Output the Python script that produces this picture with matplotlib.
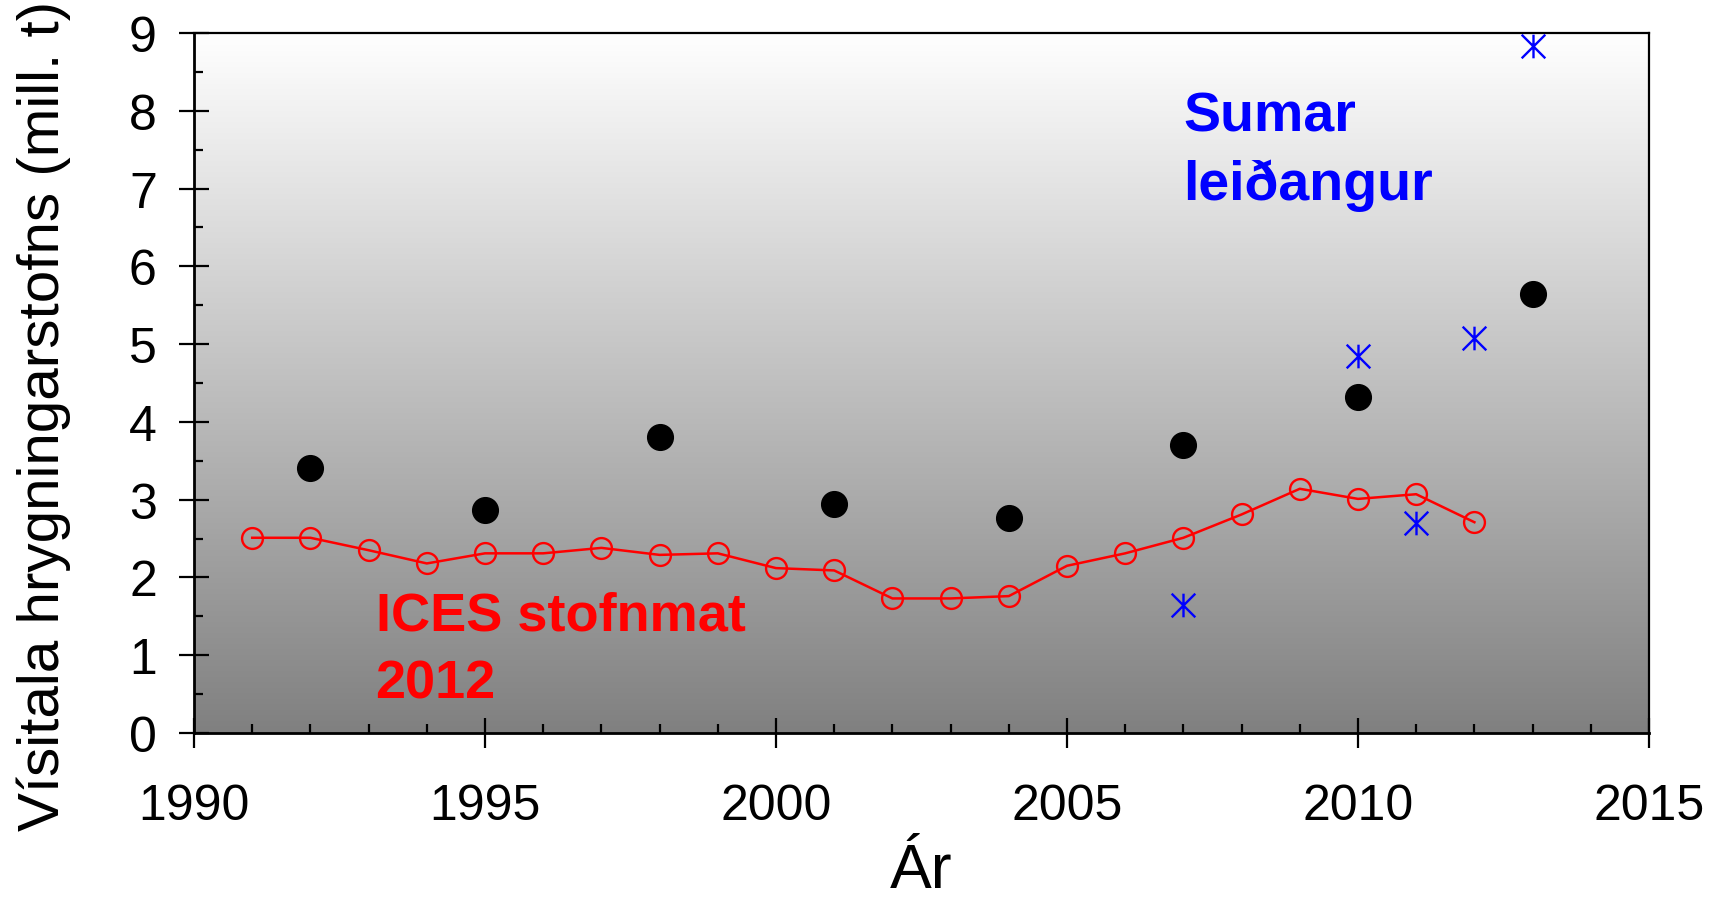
import numpy as np
import matplotlib
matplotlib.use("Agg")
import matplotlib.pyplot as plt
from matplotlib.colors import LinearSegmentedColormap
from matplotlib.path import Path
from matplotlib.ticker import MultipleLocator

plt.rcParams['font.family'] = ['Liberation Sans', 'DejaVu Sans']

# ---- data ----
survey_years = [1992, 1995, 1998, 2001, 2004, 2007, 2010, 2013]
survey_values = [3.41, 2.87, 3.80, 2.94, 2.77, 3.70, 4.32, 5.64]

summer_years = [2007, 2010, 2011, 2012, 2013]
summer_values = [1.65, 4.85, 2.70, 5.08, 8.83]

ices_years = list(range(1991, 2013))
ices_values = [2.51, 2.51, 2.35, 2.18, 2.31, 2.31, 2.38, 2.29, 2.31, 2.12,
               2.09, 1.73, 1.73, 1.76, 2.15, 2.31, 2.51, 2.81, 3.14, 3.01,
               3.07, 2.71]

x_ticks = [1990, 1995, 2000, 2005, 2010, 2015]
y_ticks = list(range(0, 10))
xlabel = "Ár"
ylabel = "Vísitala hrygningarstofns (mill. t)"

# ---- figure ----
fig = plt.figure(figsize=(17.19, 9.03), dpi=100)
ax = fig.add_axes([194/1719, 1 - 734/903, (1649 - 194)/1719, (734 - 34)/903])

ax.set_xlim(1990, 2015)
ax.set_ylim(0, 9)

# gradient background
cmap = LinearSegmentedColormap.from_list("bg", ["#808080", "#ffffff"])
grad = np.linspace(0, 1, 256).reshape(-1, 1)
ax.imshow(grad, extent=(1990, 2015, 0, 9), origin='lower', aspect='auto',
          cmap=cmap, zorder=0, interpolation='bilinear')

# ICES line
ax.plot(ices_years, ices_values, color='#ff0000', lw=1.8, marker='o',
        ms=15, mfc='none', mec='#ff0000', mew=1.7, zorder=3)

# survey dots
ax.plot(survey_years, survey_values, ls='none', marker='o', ms=18.5,
        color='black', zorder=4)

# asterisk marker: vertical line + X
ast = Path([(0, -1), (0, 1), (-1, -1), (1, 1), (-1, 1), (1, -1)],
           [Path.MOVETO, Path.LINETO, Path.MOVETO, Path.LINETO,
            Path.MOVETO, Path.LINETO])
ax.plot(summer_years, summer_values, ls='none', marker=ast, ms=17,
        mfc='none', mec='#0000ff', mew=1.7, zorder=5)

# annotations
ax.text(2007.0, 7.75, "Sumar", color='#0000ff', fontsize=40,
        fontweight='bold', va='baseline', ha='left')
ax.text(2007.0, 6.86, "leiðangur", color='#0000ff', fontsize=40,
        fontweight='bold', va='baseline', ha='left')
ax.text(1993.12, 1.33, "ICES stofnmat", color='#ff0000', fontsize=39,
        fontweight='bold', va='baseline', ha='left')
ax.text(1993.12, 0.46, "2012", color='#ff0000', fontsize=39,
        fontweight='bold', va='baseline', ha='left')

# axes styling
ax.set_xticks(x_ticks)
ax.set_yticks(y_ticks)
ax.xaxis.set_minor_locator(MultipleLocator(1))
ax.yaxis.set_minor_locator(MultipleLocator(0.5))
ax.tick_params(which='major', direction='inout', length=21.6, width=1.6,
               labelsize=36, color='black')
ax.tick_params(which='minor', direction='in', length=6.5, width=1.6)
ax.tick_params(axis='x', which='major', pad=25)
ax.tick_params(axis='y', which='major', pad=16)
ax.tick_params(top=False, right=False, which='both')

for s in ['left', 'bottom']:
    ax.spines[s].set_linewidth(2.0)
for s in ['top', 'right']:
    ax.spines[s].set_linewidth(1.6)

ax.set_xlabel(xlabel, fontsize=45)
ax.xaxis.set_label_coords(0.5, (734 - 888) / 700)
ax.xaxis.label.set_va('baseline')

ax.set_ylabel(ylabel, fontsize=42)
ax.yaxis.set_label_coords((44 - 194) / 1455, (734 - 416) / 700)
ax.yaxis.label.set_va('center')

fig.savefig("out.png", dpi=100)
